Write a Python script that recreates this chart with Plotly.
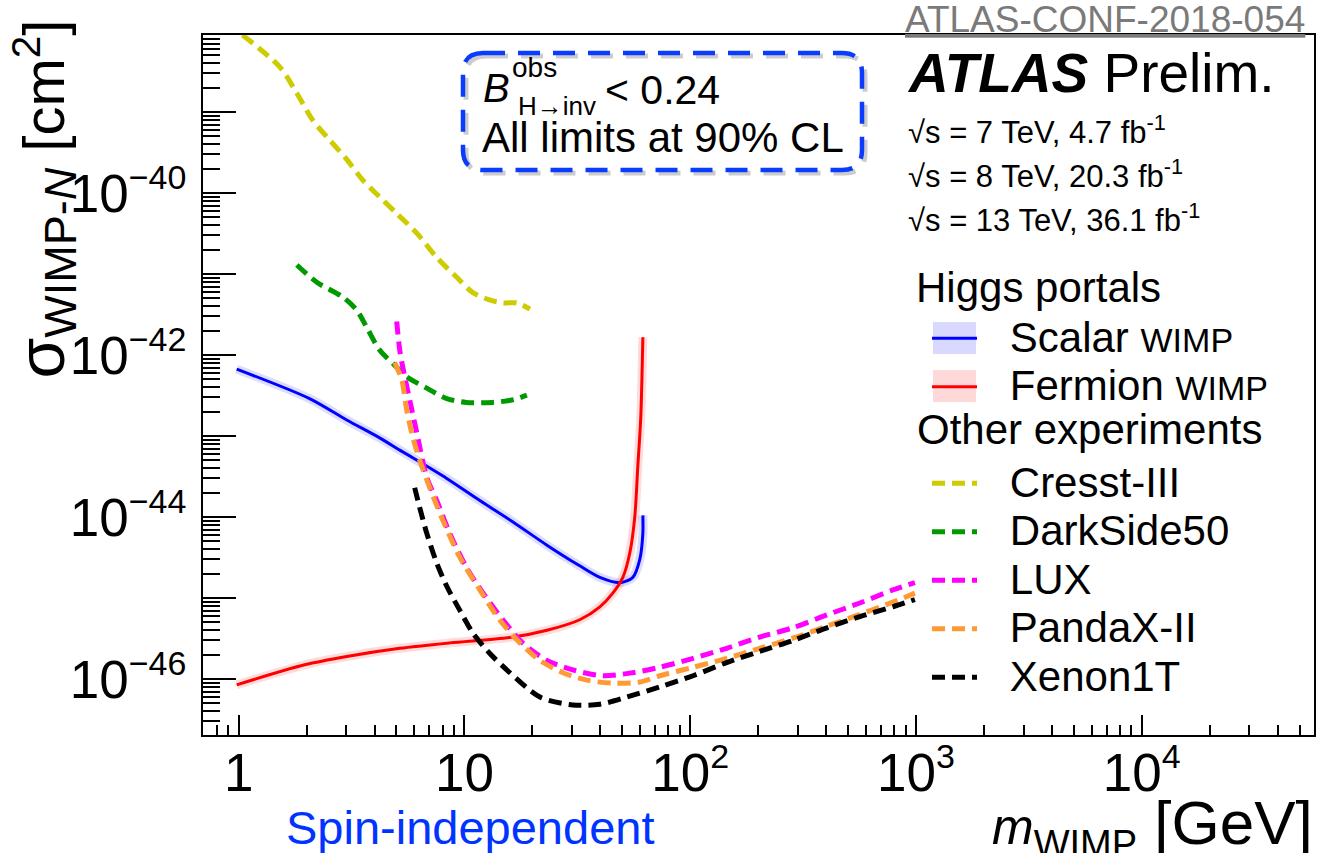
import plotly.graph_objects as go

# ---------------- data ----------------
cresst_m = [1.04, 1.52, 1.81, 2.13, 2.53, 3.01, 3.54, 4.22, 5.01, 6.15, 7.54, 9.25, 10.9, 12.9, 14.8, 17.1, 19.5]
cresst_s = [8.9e-39, 3.6e-39, 1.7e-39, 7.9e-40, 4.5e-40, 2.6e-40, 1.45e-40, 8.9e-41, 5.6e-41, 3.2e-41,
            1.6e-41, 9.1e-42, 5.9e-42, 4.8e-42, 4.4e-42, 4.4e-42, 3.7e-42]

darkside_m = [1.81, 2.22, 2.89, 3.33, 3.69, 4.21, 4.81, 5.55, 6.81, 8.35, 10.2, 13.3, 16.4, 18.9]
darkside_s = [1.29e-41, 7.9e-42, 5.2e-42, 3.6e-42, 2.2e-42, 1.15e-42, 7.9e-43, 5.4e-43, 3.9e-43, 2.9e-43,
              2.6e-43, 2.6e-43, 2.8e-43, 3.2e-43]

lux_m = [5.01, 5.17, 5.33, 5.72, 6.15, 6.81, 7.54, 8.61, 10.2, 12.1, 14.8, 18.1, 23.2, 30.2, 41.0, 55.7,
         73.3, 103, 145, 203, 285, 403, 564, 790, 989]
lux_s = [2.6e-42, 1.15e-42, 7.1e-43, 2.8e-43, 1.1e-43, 3.1e-44, 1.6e-44, 6.3e-45, 2.4e-45, 1.15e-45,
         5.4e-46, 2.8e-46, 1.7e-46, 1.3e-46, 1.1e-46, 1.2e-46, 1.4e-46, 1.8e-46, 2.4e-46, 3.3e-46,
         4.3e-46, 6.2e-46, 8.7e-46, 1.26e-45, 1.55e-45]

pandax_m = [4.91, 5.28, 5.55, 5.90, 6.34, 7.02, 8.01, 9.53, 11.7, 14.3, 17.6, 21.6, 27.3, 34.8, 45.4, 59.8,
            73.3, 103, 145, 203, 285, 403, 564, 790, 989]
pandax_s = [8.1e-43, 4.9e-43, 2.1e-43, 9.8e-44, 5.0e-44, 2.3e-44, 9.2e-45, 3.2e-45, 1.26e-45, 5.4e-46,
            2.8e-46, 1.7e-46, 1.2e-46, 9.7e-47, 8.9e-47, 9.2e-47, 1.1e-46, 1.4e-46, 1.8e-46, 2.4e-46,
            3.2e-46, 4.5e-46, 6.3e-46, 8.9e-46, 1.15e-45]

xenon_m = [6.02, 6.34, 6.81, 7.54, 8.35, 9.53, 10.9, 12.9, 15.4, 21.6, 30.2, 39.8, 52.4, 73.3, 103, 145,
           203, 285, 403, 564, 790, 989]
xenon_s = [2.3e-44, 1.3e-44, 6.3e-45, 2.7e-45, 1.4e-45, 7.1e-46, 3.7e-46, 2.1e-46, 1.3e-46, 6.0e-47,
           4.8e-47, 4.9e-47, 6.0e-47, 8.0e-47, 1.1e-46, 1.6e-46, 2.2e-46, 3.0e-46, 4.3e-46, 5.9e-46,
           7.8e-46, 9.6e-46]

scalar_m = [0.98, 2.06, 3.01, 4.21, 5.17, 5.90, 8.35, 11.7, 16.4, 23.2, 32.4, 39.8, 48.8, 55.7, 59.8, 61.7, 61.7]
scalar_s = [6.7e-43, 2.9e-43, 1.58e-43, 9.5e-44, 6.7e-44, 5.4e-44, 3.0e-44, 1.6e-44, 8.7e-45, 4.5e-45,
            2.5e-45, 1.8e-45, 1.55e-45, 1.8e-45, 3.0e-45, 6.3e-45, 1.05e-44]

fermion_m = [0.98, 1.96, 3.01, 5.17, 8.61, 16.4, 23.2, 32.4, 39.8, 45.4, 50.3, 54.0, 56.8, 58.6, 60.4, 61.7]
fermion_s = [8.5e-47, 1.5e-46, 1.9e-46, 2.4e-46, 2.8e-46, 3.3e-46, 4.0e-46, 5.4e-46, 7.8e-46, 1.15e-45,
             1.8e-45, 3.6e-45, 1.0e-44, 4.2e-44, 1.7e-43, 1.66e-42]

EXP = '<span style="font-size:34px">{}</span>'
x_tickvals = [1, 10, 100, 1000, 10000]
x_ticktext = ["1", "10", "10<sup>" + EXP.format("2") + "</sup>", "10<sup>" + EXP.format("3") + "</sup>",
              "10<sup>" + EXP.format("4") + "</sup>"]
y_tickvals = [1e-46, 1e-45, 1e-44, 1e-43, 1e-42, 1e-41, 1e-40, 1e-39]
y_ticktext = ["10<sup>" + EXP.format("\u221246") + "</sup>", "",
              "10<sup>" + EXP.format("\u221244") + "</sup>", "",
              "10<sup>" + EXP.format("\u221242") + "</sup>", "",
              "10<sup>" + EXP.format("\u221240") + "</sup>", ""]

# ---------------- page geometry ----------------
W, H = 1326, 853
L, R, T, B = 203, 12, 35, 118
PW, PH = W - L - R, H - T - B
FONT = "Liberation Sans, Arial, Helvetica, sans-serif"


def ax(px):
    return (px - L) / PW


def ay(py):
    return (H - B - py) / PH


fig = go.Figure()

# bands (drawn as wide, light lines beneath the central curves)
fig.add_trace(go.Scatter(x=scalar_m, y=scalar_s, mode="lines", showlegend=False, hoverinfo="skip",
                         line=dict(color="rgba(60,60,255,0.18)", width=9, shape="spline", smoothing=0.8)))
fig.add_trace(go.Scatter(x=fermion_m, y=fermion_s, mode="lines", showlegend=False, hoverinfo="skip",
                         line=dict(color="rgba(255,60,60,0.18)", width=9, shape="spline", smoothing=0.8)))

DASH = "13px,7px"
exp_traces = [
    ("Cresst-III", cresst_m, cresst_s, "#cccc00"),
    ("DarkSide50", darkside_m, darkside_s, "#009900"),
    ("LUX", lux_m, lux_s, "#ff00ff"),
    ("PandaX-II", pandax_m, pandax_s, "#ff9933"),
    ("Xenon1T", xenon_m, xenon_s, "#000000"),
]

GAP = '<span style="font-size:42px">\u00a0\u00a0</span><span style="font-size:16px">\u00a0</span>'


def big(s):
    return f'<span style="font-size:42px">{s}</span>'


def small(s):
    return f'<span style="font-size:34px">{s}</span>'


fig.add_trace(go.Scatter(x=scalar_m, y=scalar_s, mode="lines",
                         name=GAP + big("Scalar ") + small("WIMP"),
                         legendgroup="higgs", legendrank=1,
                         line=dict(color="#0000ff", width=3, shape="spline", smoothing=0.8)))
fig.add_trace(go.Scatter(x=fermion_m, y=fermion_s, mode="lines",
                         name=GAP + big("Fermion ") + small("WIMP"),
                         legendgroup="higgs", legendrank=2,
                         line=dict(color="#ff0000", width=3, shape="spline", smoothing=0.8)))

for i, (nm, mx, sy, col) in enumerate(exp_traces):
    fig.add_trace(go.Scatter(x=mx, y=sy, mode="lines", name=GAP + big(nm),
                             legendgroup="other", legendrank=10 + i,
                             line=dict(color=col, width=5, dash=DASH, shape="spline", smoothing=0.8)))

axis_common = dict(showline=True, linecolor="black", linewidth=2, mirror=True, showgrid=False,
                   zeroline=False, ticks="inside", tickcolor="black", tickwidth=2,
                   tickfont=dict(family=FONT, size=53, color="black"), automargin=False)

fig.update_xaxes(type="log", range=[-0.158, 4.763], tickmode="array", tickvals=x_tickvals,
                 ticktext=x_ticktext, ticklen=20, ticklabelstandoff=-10,
                 minor=dict(ticks="inside", ticklen=10, tickwidth=2, tickcolor="black", dtick="D1",
                            showgrid=False),
                 **axis_common)
fig.update_yaxes(type="log", range=[-46.69, -38.05], tickmode="array", tickvals=y_tickvals,
                 ticktext=y_ticktext, ticklen=33, ticklabelstandoff=4,
                 minor=dict(ticks="inside", ticklen=17, tickwidth=2, tickcolor="black", dtick="D1",
                            showgrid=False),
                 **axis_common)

# ---------------- text ----------------
ann = []


def text(s, px, py, size, anchor="left", yanchor="bottom", color="black", **kw):
    ann.append(dict(text=s, x=ax(px), y=ay(py), xref="paper", yref="paper", xanchor=anchor,
                    yanchor=yanchor, showarrow=False, font=dict(family=FONT, size=size, color=color),
                    borderpad=0, **kw))


def base(py, size):
    # y (pixels) of the bottom of the text box for a given baseline
    return py + 0.212 * size


text('<u>ATLAS-CONF-2018-054</u>', 904, base(33, 37), 37, color="#7a7a7a")
text('<b><i>ATLAS</i></b> Prelim.', 906, base(93, 55), 55)
text('\u221as = 7 TeV, 4.7 fb<sup>-1</sup>', 907, base(144, 31), 31)
text('\u221as = 8 TeV, 20.3 fb<sup>-1</sup>', 907, base(188, 31), 31)
text('\u221as = 13 TeV, 36.1 fb<sup>-1</sup>', 907, base(232, 31), 31)

text('<i>B</i>', 482, base(103, 40), 40)
text('obs', 511, base(78, 28), 28)
text('H\u2192inv', 517, base(116, 26), 26)
text('< 0.24', 604, base(105, 41), 41)
text('All limits at 90% CL', 481, base(153, 42), 42)

# legend section headings
text('Higgs portals', 915, base(303, 42), 42)
text('Other experiments', 916, base(445, 42), 42)

text('Spin-independent', 285, base(845, 47), 47, color="#0033ff")
text('<i><span style="font-size:50px">m</span></i><sub><span style="font-size:38px">WIMP</span></sub> [GeV]',
     1314, base(853, 62), 62, anchor="right")

ann.append(dict(text='<span style="font-size:66px">\u03c3</span><sub><span style="font-size:45px">WIMP-<i>N</i></span></sub> [cm<sup>2</sup>]',
                x=ax(44), y=ay(18), xref="paper", yref="paper", xanchor="center", yanchor="top",
                textangle=-90, showarrow=False, font=dict(family=FONT, size=58, color="black")))


# ---------------- rounded dashed box ----------------
def rounded(x0, y0, x1, y1, r):
    def P(px, py):
        return f"{ax(px):.5f},{ay(py):.5f}"
    return (f"M{P(x0 + r, y0)} L{P(x1 - r, y0)} Q{P(x1, y0)} {P(x1, y0 + r)} "
            f"L{P(x1, y1 - r)} Q{P(x1, y1)} {P(x1 - r, y1)} L{P(x0 + r, y1)} "
            f"Q{P(x0, y1)} {P(x0, y1 - r)} L{P(x0, y0 + r)} Q{P(x0, y0)} {P(x0 + r, y0)} Z")


shapes = [
    dict(type="path", path=rounded(466, 56, 865, 173, 20), xref="paper", yref="paper",
         line=dict(color="rgba(0,0,0,0.2)", width=5, dash="22px,13px"), layer="above"),
    dict(type="path", path=rounded(463, 53, 862, 170, 20), xref="paper", yref="paper",
         line=dict(color="#0a3cff", width=4.5, dash="22px,13px"), layer="above"),
    # light band swatches behind the two Higgs-portal legend keys
    dict(type="rect", x0=ax(933), x1=ax(976), y0=ay(322), y1=ay(354), xref="paper", yref="paper",
         fillcolor="rgb(217,217,255)", line=dict(width=0), layer="above"),
    dict(type="rect", x0=ax(933), x1=ax(976), y0=ay(370), y1=ay(402), xref="paper", yref="paper",
         fillcolor="rgb(255,217,217)", line=dict(width=0), layer="above"),
]

fig.update_layout(
    width=W, height=H, margin=dict(l=L, r=R, t=T, b=B, autoexpand=False),
    paper_bgcolor="white", plot_bgcolor="white",
    font=dict(family=FONT, color="black"),
    showlegend=True,
    legend=dict(x=ax(927), y=ay(309), xanchor="left", yanchor="top", bgcolor="rgba(0,0,0,0)",
                borderwidth=0, font=dict(family=FONT, size=35, color="black"),
                traceorder="grouped", tracegroupgap=48, itemwidth=45, itemclick=False),
    annotations=ann, shapes=shapes,
)

fig.write_html("out.html")
